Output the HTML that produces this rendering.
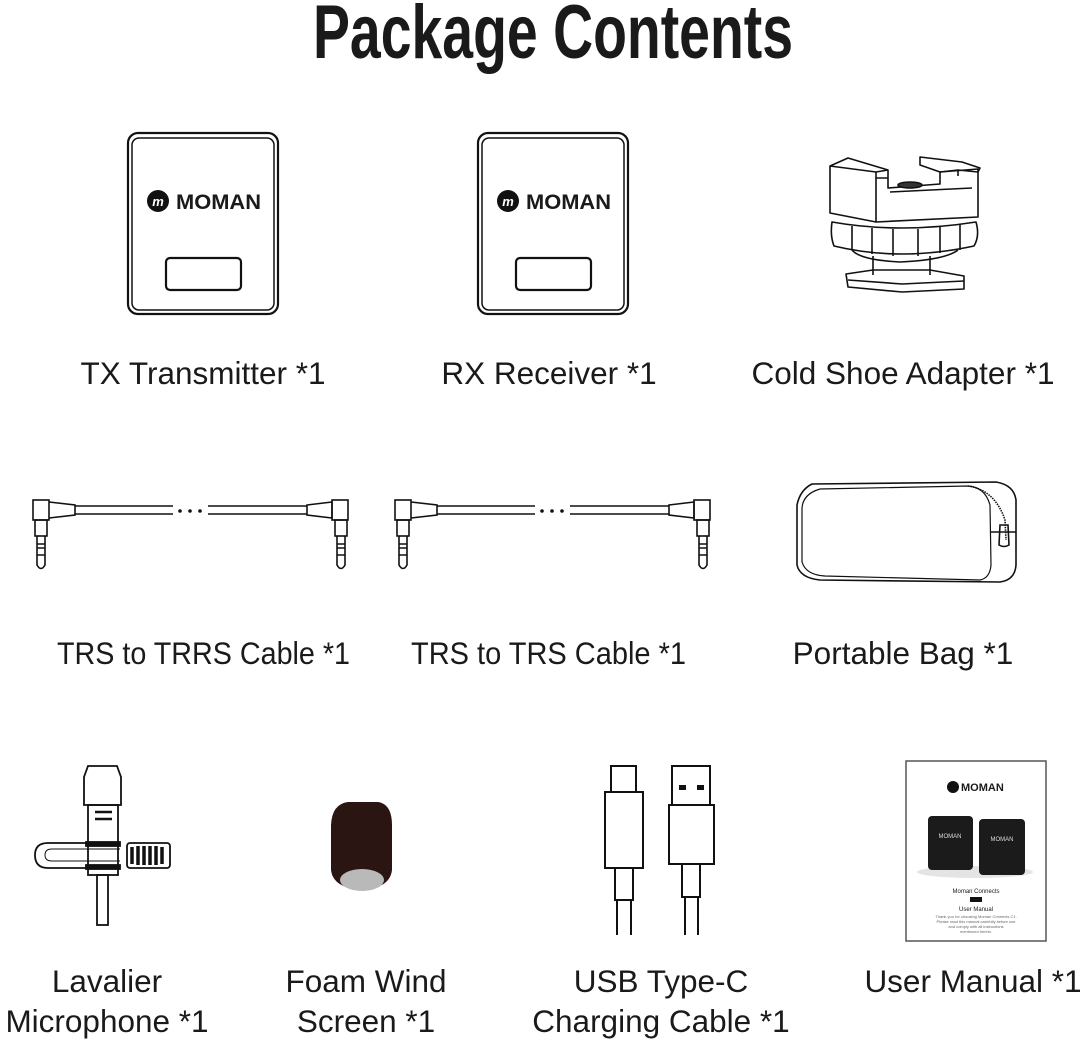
<!DOCTYPE html>
<html><head><meta charset="utf-8"><style>
html,body{margin:0;padding:0;background:#fff;}
svg{display:block;}
text{font-family:"Liberation Sans",sans-serif;fill:#1a1a1a;}
.l{font-size:31.5px;text-anchor:middle;}
</style></head><body>
<svg width="1080" height="1046" viewBox="0 0 1080 1046" xmlns="http://www.w3.org/2000/svg">
<text x="313" y="58" font-size="76" font-weight="bold" textLength="480" lengthAdjust="spacingAndGlyphs">Package Contents</text>

<g fill="none" stroke="#111" stroke-width="2.2">
<rect x="128" y="133" width="150" height="181" rx="10"/>
<rect x="132" y="138" width="142" height="172" rx="7" stroke-width="1.5"/>
<rect x="166" y="258" width="75" height="32" rx="4"/>
<rect x="478" y="133" width="150" height="181" rx="10"/>
<rect x="482" y="138" width="142" height="172" rx="7" stroke-width="1.5"/>
<rect x="516" y="258" width="75" height="32" rx="4"/>
</g>
<circle cx="158" cy="201" r="11" fill="#111"/>
<text x="158" y="206" font-size="13" font-style="italic" font-weight="bold" text-anchor="middle" style="fill:#fff">m</text>
<text x="176" y="209" font-size="21" font-weight="bold" textLength="85" lengthAdjust="spacingAndGlyphs">MOMAN</text>
<circle cx="508" cy="201" r="11" fill="#111"/>
<text x="508" y="206" font-size="13" font-style="italic" font-weight="bold" text-anchor="middle" style="fill:#fff">m</text>
<text x="526" y="209" font-size="21" font-weight="bold" textLength="85" lengthAdjust="spacingAndGlyphs">MOMAN</text>

<!-- Cold shoe -->
<g fill="none" stroke="#111" stroke-width="1.6" stroke-linejoin="round">
<path d="M830 166 L848 158 L888 170 L888 178 L876 178 L876 222 L830 213 Z"/>
<path d="M830 166 L876 172 L888 170"/>
<path d="M876 172 L876 178"/>
<path d="M888 178 L888 188 L940 184 L940 172 L978 169 L978 217 L876 222"/>
<path d="M920 157 L962 162 L980 168 L978 172 L958 170 L940 172 L920 165 Z"/>
<path d="M958 170 L958 176"/>
<path d="M890 192 L972 188"/>
<ellipse cx="910" cy="185" rx="12" ry="3" fill="#333"/>
<path d="M832 222 Q830 236 834 246 Q900 262 974 246 Q980 236 976 222 Q900 234 832 222 Z"/>
<path d="M852 226 L852 250 M872 228 L872 254 M893 229 L893 256 M918 229 L918 256 M940 227 L940 253 M960 224 L960 250"/>
<path d="M852 250 Q860 260 900 262 Q945 260 958 250"/>
<path d="M873 256 L873 275 M930 256 L930 275"/>
<path d="M846 274 L873 270 L930 270 L964 276 L964 289 L902 292 L848 287 Z"/>
<path d="M848 280 L902 284 L964 281"/>
</g>

<!-- Cables -->
<g id="cab" fill="none" stroke="#111" stroke-width="1.6">
<rect x="33" y="500" width="16" height="20"/>
<path d="M49 502 L75 505 L75 515 L49 518"/>
<path d="M75 506 L173 506 M75 514 L173 514"/>
<path d="M208 506 L307 506 M208 514 L307 514"/>
<path d="M307 505 L332 502 L332 518 L307 515 Z"/>
<rect x="332" y="500" width="16" height="20"/>
<rect x="35" y="520" width="12" height="16"/>
<path d="M37 536 L37 565 Q41 572 45 565 L45 536"/>
<path d="M37 544 L45 544 M37 548 L45 548 M37 555 L45 555"/>
<rect x="335" y="520" width="12" height="16"/>
<path d="M337 536 L337 565 Q341 572 345 565 L345 536"/>
<path d="M337 544 L345 544 M337 548 L345 548 M337 555 L345 555"/>
</g>
<g fill="#111"><circle cx="180" cy="511" r="1.8"/><circle cx="190" cy="511" r="1.8"/><circle cx="200" cy="511" r="1.8"/></g>
<use href="#cab" x="362"/>
<g fill="#111"><circle cx="542" cy="511" r="1.8"/><circle cx="552" cy="511" r="1.8"/><circle cx="562" cy="511" r="1.8"/></g>

<!-- Bag -->
<g fill="none" stroke="#111" stroke-width="1.6">
<path d="M812 484 Q800 490 797 505 L797 565 Q800 578 820 580 L1000 582 Q1015 580 1016 565 L1016 500 Q1014 485 996 482 Z"/>
<path d="M820 489 Q803 494 802 508 L802 562 Q806 575 825 576 L980 580 Q990 578 991 565 L990 505 Q985 487 968 486 Z" stroke-width="1.2"/>
<path d="M968 486 Q995 490 1005 520 L1006 540" stroke-dasharray="1.5 1"/>
<path d="M991 532 L1016 532"/>
<path d="M1000 525 L1008 525 L1009 545 Q1004 548 999 545 Z"/>
</g>

<!-- Lav mic -->
<g fill="none" stroke="#111" stroke-width="1.8">
<path d="M88 766 L117 766 L121 777 L121 805 L84 805 L84 777 Z"/>
<rect x="88" y="805" width="30" height="70"/>
<path d="M95 812 L112 812 M95 819 L112 819" stroke-width="2.5"/>
<path d="M120 843 L48 843 Q35 843 35 855 Q35 868 48 868 L120 868"/>
<path d="M120 849 L52 849 Q45 849 45 855 Q45 861 52 861 L120 861" stroke-width="1"/>
<rect x="86" y="842" width="34" height="4" fill="#111"/>
<rect x="86" y="865" width="34" height="4" fill="#111"/>
<rect x="127" y="843" width="43" height="25" rx="3"/>
<path d="M132 847 L132 864 M138 846 L138 865 M144 846 L144 865 M150 846 L150 865 M156 846 L156 865 M162 847 L162 864" stroke-width="3.5"/>
<rect x="97" y="875" width="11" height="50"/>
</g>

<!-- Foam -->
<path d="M348 802 L378 802 Q392 804 392 825 L392 870 Q390 888 362 890 Q333 888 331 870 L331 825 Q332 804 348 802 Z" fill="#2a1513"/>
<ellipse cx="362" cy="880" rx="22" ry="11" fill="#b9b9b9"/>

<!-- USB -->
<g fill="none" stroke="#111" stroke-width="2">
<rect x="611" y="766" width="25" height="26"/>
<rect x="605" y="792" width="38" height="76"/>
<rect x="615" y="868" width="18" height="32"/>
<path d="M617 900 L617 935 M631 900 L631 935"/>
<rect x="672" y="766" width="38" height="39"/>
<rect x="669" y="805" width="45" height="59"/>
<rect x="682" y="864" width="18" height="33"/>
<path d="M685 897 L685 935 M698 897 L698 935"/>
</g>
<rect x="679" y="785" width="7" height="5" fill="#111"/>
<rect x="697" y="785" width="7" height="5" fill="#111"/>

<!-- Manual -->
<rect x="906" y="761" width="140" height="180" fill="#fff" stroke="#555" stroke-width="1.5"/>
<circle cx="953" cy="787" r="6" fill="#111"/>
<text x="961" y="791" font-size="11" font-weight="bold">MOMAN</text>
<ellipse cx="975" cy="872" rx="58" ry="6" fill="#e4e4e4"/>
<rect x="928" y="816" width="45" height="54" rx="4" fill="#1b1b1b"/>
<rect x="979" y="819" width="46" height="56" rx="4" fill="#1b1b1b"/>
<text x="950" y="838" font-size="6" text-anchor="middle" style="fill:#ddd">MOMAN</text>
<text x="1002" y="841" font-size="6" text-anchor="middle" style="fill:#ddd">MOMAN</text>
<text x="976" y="893" font-size="6" text-anchor="middle">Moman Connects</text>
<rect x="970" y="897" width="12" height="5" fill="#111"/>
<text x="976" y="911" font-size="6" text-anchor="middle">User Manual</text>
<text x="976" y="918" font-size="4" text-anchor="middle" style="fill:#666">Thank you for choosing Moman Connects C1.</text>
<text x="976" y="923" font-size="4" text-anchor="middle" style="fill:#666">Please read this manual carefully before use</text>
<text x="976" y="928" font-size="4" text-anchor="middle" style="fill:#666">and comply with all instructions</text>
<text x="976" y="933" font-size="4" text-anchor="middle" style="fill:#666">mentioned herein.</text>

<!-- Labels -->
<text class="l" x="203" y="384">TX Transmitter *1</text>
<text class="l" x="549" y="384">RX Receiver *1</text>
<text class="l" x="903" y="384">Cold Shoe Adapter *1</text>
<text class="l" x="57" y="664" style="text-anchor:start" textLength="293" lengthAdjust="spacingAndGlyphs">TRS to TRRS Cable *1</text>
<text class="l" x="411" y="664" style="text-anchor:start" textLength="275" lengthAdjust="spacingAndGlyphs">TRS to TRS Cable *1</text>
<text class="l" x="903" y="664">Portable Bag *1</text>
<text class="l" x="107" y="992">Lavalier</text>
<text class="l" x="107" y="1032">Microphone *1</text>
<text class="l" x="366" y="992">Foam Wind</text>
<text class="l" x="366" y="1032">Screen *1</text>
<text class="l" x="661" y="992">USB Type-C</text>
<text class="l" x="661" y="1032">Charging Cable *1</text>
<text class="l" x="973" y="992">User Manual *1</text>
</svg>
</body></html>
